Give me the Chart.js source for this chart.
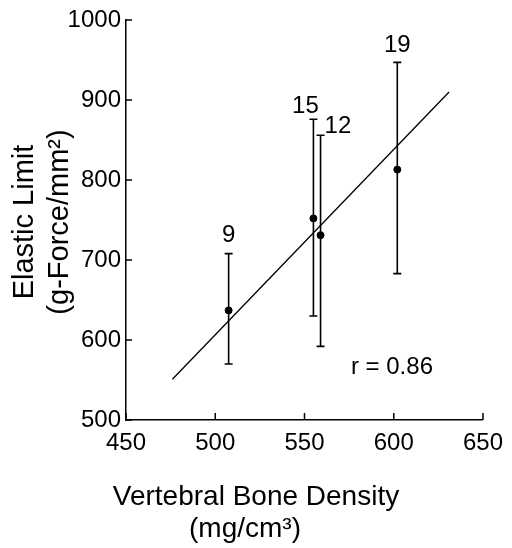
<!DOCTYPE html>
<html>
<head>
<meta charset="utf-8">
<script src="https://cdn.jsdelivr.net/npm/chart.js@4.4.1/dist/chart.umd.min.js"></script>
<style>
  html, body { margin: 0; padding: 0; background: #fff; }
</style>
</head>
<body>
<canvas id="myChart" width="512" height="548"></canvas>
<script>
// group sizes shown above each bar
const groupLabels = ['9', '15', '12', '19'];
const boneDensity = [507.5, 555, 559, 602];
const elasticLimit = [637, 752, 731, 813];
const errorLow = [570, 630, 592, 683];
const errorHigh = [708, 876, 856, 947];
// regression line end points
const fitX = [476, 631];
const fitY = [551, 910];
const xTicks = [450, 500, 550, 600, 650];
const yTicks = [500, 600, 700, 800, 900, 1000];
const rText = 'r = 0.86';
const rPos = [599, 557];

Chart.defaults.font.family = "'Liberation Sans', Arial, sans-serif";
Chart.defaults.color = '#000';

// error bars with small caps
const errorBars = {
  id: 'errorBars',
  afterDatasetsDraw(chart) {
    const {ctx, scales: {x, y}} = chart;
    ctx.save();
    ctx.strokeStyle = '#000';
    ctx.lineWidth = 1.6;
    ctx.beginPath();
    boneDensity.forEach((d, i) => {
      const px = x.getPixelForValue(d);
      const lo = y.getPixelForValue(errorLow[i]);
      const hi = y.getPixelForValue(errorHigh[i]);
      ctx.moveTo(px, lo); ctx.lineTo(px, hi);
      ctx.moveTo(px - 4, lo); ctx.lineTo(px + 4, lo);
      ctx.moveTo(px - 4, hi); ctx.lineTo(px + 4, hi);
    });
    ctx.stroke();

    // n labels over the bars
    ctx.fillStyle = '#000';
    ctx.font = "24px 'Liberation Sans', Arial, sans-serif";
    ctx.textBaseline = 'alphabetic';
    // [dx, dy, align] per label
    const shift = {'9': [0, -12, 'center'], '15': [-8, -6, 'center'], '12': [4, -2, 'left'], '19': [0, -10, 'center']};
    boneDensity.forEach((d, i) => {
      const px = x.getPixelForValue(d);
      const hi = y.getPixelForValue(errorHigh[i]);
      const s = shift[groupLabels[i]];
      ctx.textAlign = s[2];
      ctx.fillText(groupLabels[i], px + s[0], hi + s[1]);
    });

    ctx.textAlign = 'center';
    ctx.fillText(rText, x.getPixelForValue(rPos[0]), y.getPixelForValue(rPos[1]));
    ctx.restore();
  }
};

// ticks pointing into the plot, plus axis titles
const axisDecor = {
  id: 'axisDecor',
  afterDraw(chart) {
    const {ctx, chartArea, scales: {x, y}} = chart;
    ctx.save();
    ctx.strokeStyle = '#000';
    ctx.lineWidth = 1.5;
    ctx.beginPath();
    xTicks.forEach(v => {
      const px = x.getPixelForValue(v);
      ctx.moveTo(px, chartArea.bottom);
      ctx.lineTo(px, chartArea.bottom - 7);
    });
    yTicks.forEach(v => {
      const py = y.getPixelForValue(v);
      ctx.moveTo(chartArea.left, py);
      ctx.lineTo(chartArea.left + 6, py);
    });
    ctx.stroke();

    ctx.fillStyle = '#000';
    ctx.textAlign = 'center';
    ctx.textBaseline = 'alphabetic';
    ctx.font = "28px 'Liberation Sans', Arial, sans-serif";
    ctx.fillText('Vertebral Bone Density', 256, 505);
    ctx.fillText('(mg/cm³)', 245, 537);

    ctx.translate(0, 222);
    ctx.rotate(-Math.PI / 2);
    ctx.font = "29px 'Liberation Sans', Arial, sans-serif";
    ctx.fillText('Elastic Limit', 0, 33);
    ctx.fillText('(g-Force/mm²)', 0, 68);
    ctx.restore();
  }
};

const ctx = document.getElementById('myChart');

const data = {
  datasets: [
    {
      type: 'line',
      data: fitX.map((v, i) => ({x: v, y: fitY[i]})),
      borderColor: '#000',
      borderWidth: 1.3,
      pointRadius: 0,
      fill: false
    },
    {
      type: 'scatter',
      data: boneDensity.map((v, i) => ({x: v, y: elasticLimit[i]})),
      backgroundColor: '#000',
      borderColor: '#000',
      pointRadius: 3.5
    }
  ]
};

const config = {
  type: 'scatter',
  data: data,
  options: {
    responsive: false,
    animation: false,
    layout: { padding: { top: 20, right: 23, left: 0, bottom: 0 } },
    plugins: { legend: { display: false }, tooltip: { enabled: false } },
    scales: {
      x: {
        type: 'linear',
        min: 450, max: 650,
        afterBuildTicks: s => { s.ticks = xTicks.map(v => ({value: v})); },
        afterFit: s => { s.height = 128; },
        grid: { display: false, drawTicks: false },
        border: { display: true, color: '#000', width: 1.5 },
        ticks: { font: { size: 24 }, padding: 9, color: '#000', maxRotation: 0, callback: v => String(v) }
      },
      y: {
        type: 'linear',
        min: 500, max: 1000,
        afterBuildTicks: s => { s.ticks = yTicks.map(v => ({value: v})); },
        afterFit: s => { s.width = 126; },
        grid: { display: false, drawTicks: false },
        border: { display: true, color: '#000', width: 1.5 },
        ticks: { font: { size: 24 }, padding: 5, color: '#000', callback: v => String(v) }
      }
    }
  },
  plugins: [errorBars, axisDecor]
};

const myChart = new Chart(ctx, config);
</script>
</body>
</html>
